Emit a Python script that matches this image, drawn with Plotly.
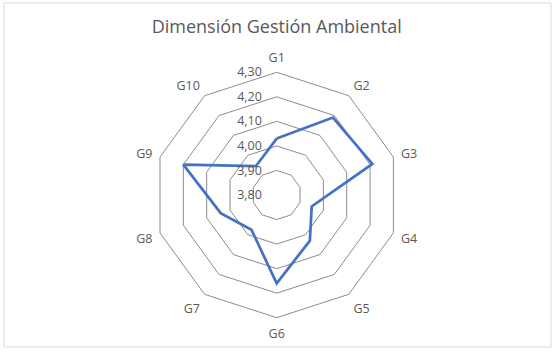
import plotly.graph_objects as go

categories = ["G1", "G2", "G3", "G4", "G5", "G6", "G7", "G8", "G9", "G10"]
values = [4.03, 4.19, 4.21, 3.95, 4.03, 4.16, 3.975, 4.04, 4.20, 3.945]
radial_ticks = [3.80, 3.90, 4.00, 4.10, 4.20, 4.30]
title_text = "Dimensión Gestión Ambiental"

W, H = 559, 353
cx, cy, R = 276.7, 195.0, 122.7

fig = go.Figure()
fig.add_trace(go.Scatterpolar(
    r=values + values[:1],
    theta=categories + categories[:1],
    mode="lines",
    line=dict(color="#4472C4", width=2.75),
    showlegend=False,
))

fig.update_layout(
    width=W, height=H,
    margin=dict(l=0, r=0, t=0, b=0),
    paper_bgcolor="white",
    plot_bgcolor="white",
    separators=",.",
    font=dict(family="Open Sans, Calibri, sans-serif", color="#595959", size=12),
    title=dict(text=title_text, x=cx / W, xanchor="center", y=1 - 27 / H, yanchor="middle",
               font=dict(size=18, color="#595959")),
    polar=dict(
        domain=dict(x=[(cx - R) / W, (cx + R) / W], y=[1 - (cy + R) / H, 1 - (cy - R) / H]),
        bgcolor="white",
        gridshape="linear",
        radialaxis=dict(
            range=[3.8, 4.3],
            tickvals=radial_ticks,
            tickformat=".2f",
            angle=90,
            tickangle=90,
            side="counterclockwise",
            showline=False,
            ticks="outside",
            ticklen=10,
            tickcolor="rgba(0,0,0,0)",
            gridcolor="#8c8c8c",
            gridwidth=1,
            tickfont=dict(size=12.5, color="#595959"),
        ),
        angularaxis=dict(
            rotation=90,
            direction="clockwise",
            showgrid=False,
            showline=True,
            linecolor="#8c8c8c",
            linewidth=1,
            ticks="outside",
            ticklen=5,
            tickcolor="rgba(0,0,0,0)",
            tickfont=dict(size=12.5, color="#595959"),
        ),
    ),
    shapes=[dict(type="rect", xref="paper", yref="paper",
                 x0=4 / W, x1=551 / W, y0=1 - 347 / H, y1=1 - 3 / H,
                 line=dict(color="#d9d9d9", width=1))],
)

fig.write_html("out.html")
